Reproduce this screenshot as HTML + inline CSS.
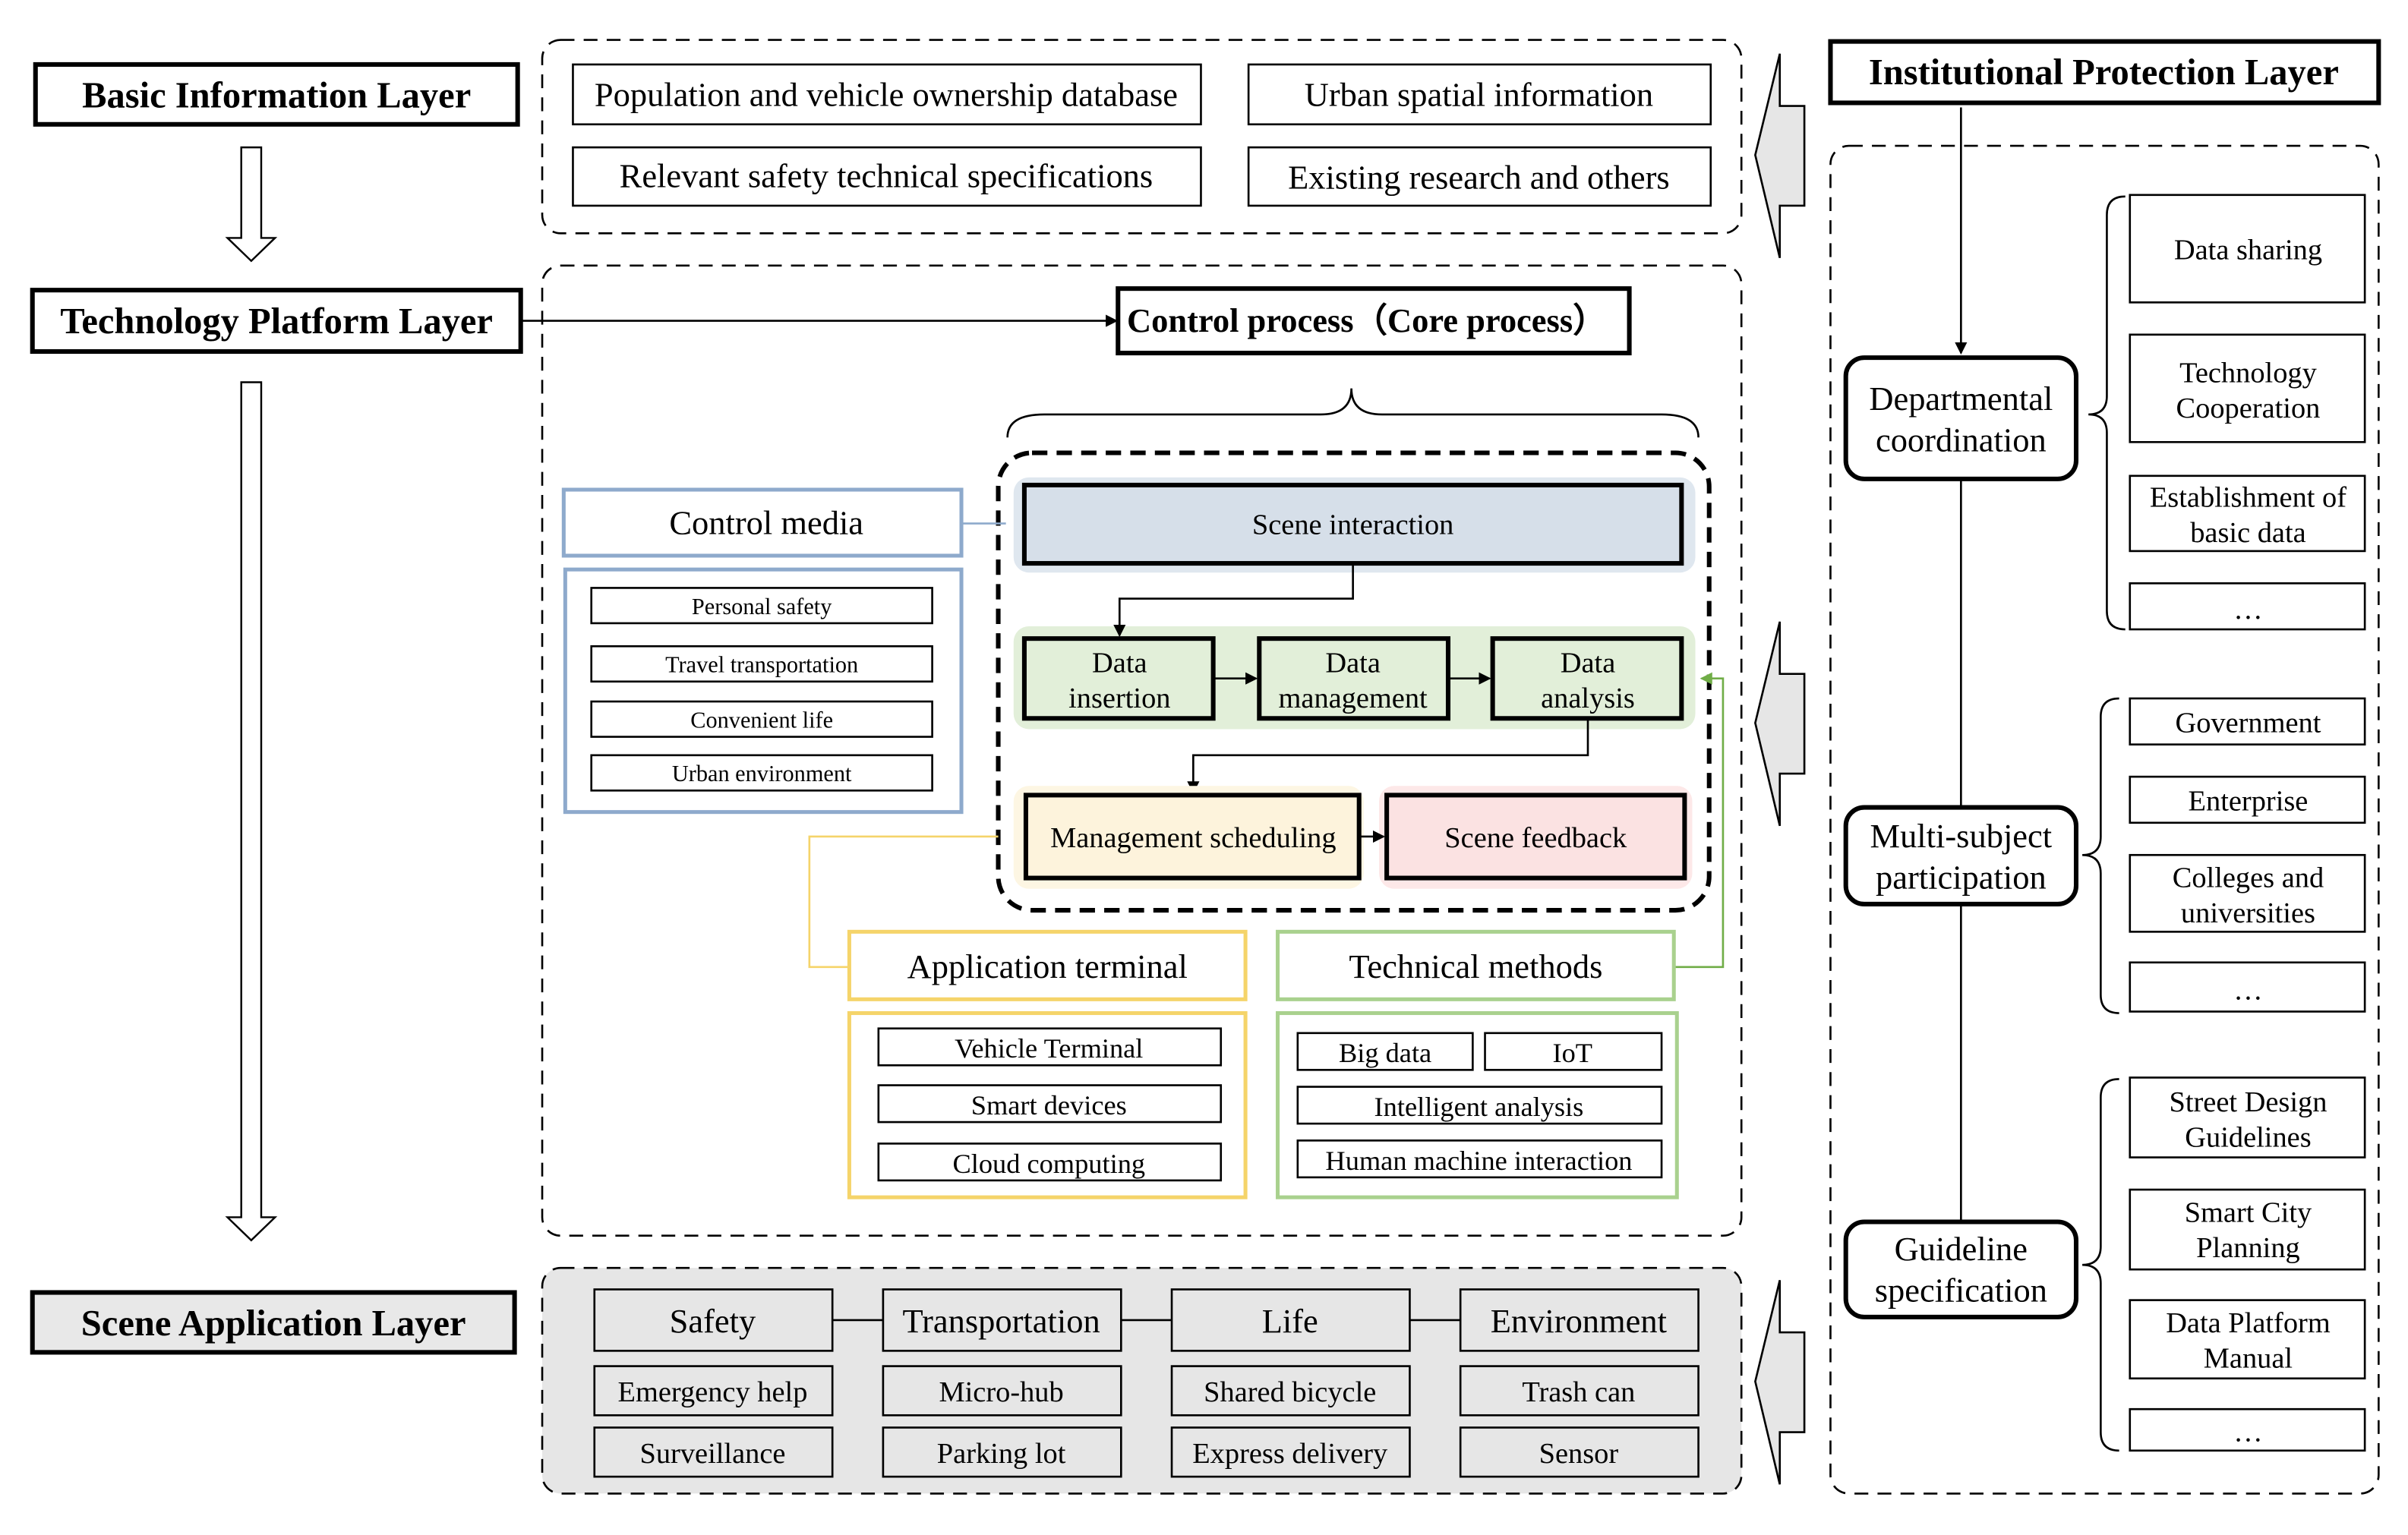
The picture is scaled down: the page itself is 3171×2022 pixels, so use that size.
<!DOCTYPE html>
<html><head><meta charset="utf-8"><style>html,body{margin:0;padding:0;background:#fff}svg{display:block}text{font-family:"Liberation Serif",serif;fill:#000}</style></head><body>
<svg width="3171" height="2022" viewBox="0 0 1568 1000" xmlns="http://www.w3.org/2000/svg">
<defs><marker id="a" markerWidth="8" markerHeight="8" refX="7" refY="4" orient="auto" markerUnits="userSpaceOnUse"><path d="M0,0 L8,4 L0,8 z" fill="#000"/></marker>
<marker id="g" markerWidth="8" markerHeight="8" refX="7" refY="4" orient="auto" markerUnits="userSpaceOnUse"><path d="M0,0 L8,4 L0,8 z" fill="#70ad47"/></marker></defs>
<g font-size="22" text-anchor="middle">
<!-- left layers -->
<rect x="23" y="42" width="314" height="39" fill="#fff" stroke="#000" stroke-width="3"/>
<text x="180" y="70" font-weight="bold" font-size="24">Basic Information Layer</text>
<path d="M157,96 H170 V155 H179 L163.5,170 L148,155 H157 Z" fill="#fff" stroke="#000" stroke-width="1.2"/>
<rect x="21" y="189" width="318" height="40" fill="#fff" stroke="#000" stroke-width="3"/>
<text x="180" y="217" font-weight="bold" font-size="24">Technology Platform Layer</text>
<path d="M157,249 H170 V793 H179 L163.5,808 L148,793 H157 Z" fill="#fff" stroke="#000" stroke-width="1.2"/>
<rect x="21" y="842" width="314" height="39" fill="#e8e8e8" stroke="#000" stroke-width="3"/>
<text x="178" y="870" font-weight="bold" font-size="24">Scene Application Layer</text>
<line x1="339" y1="209" x2="727" y2="209" stroke="#000" stroke-width="1.3" marker-end="url(#a)"/>
<!-- top dashed -->
<rect x="353" y="26" width="781" height="126" rx="12" fill="none" stroke="#000" stroke-width="1.3" stroke-dasharray="9,6"/>
<g fill="#fff" stroke="#000" stroke-width="1.3">
<rect x="373" y="42" width="409" height="39"/><rect x="813" y="42" width="301" height="39"/>
<rect x="373" y="96" width="409" height="38"/><rect x="813" y="96" width="301" height="38"/></g>
<text x="577" y="69">Population and vehicle ownership database</text>
<text x="963" y="69">Urban spatial information</text>
<text x="577" y="122">Relevant safety technical specifications</text>
<text x="963" y="123">Existing research and others</text>
<!-- middle dashed -->
<rect x="353" y="173" width="781" height="632" rx="12" fill="none" stroke="#000" stroke-width="1.3" stroke-dasharray="9,6"/>
<rect x="728" y="188" width="333" height="42" fill="#fff" stroke="#000" stroke-width="3"/>
<text x="890" y="216" font-weight="bold">Control process（Core process）</text>
<path d="M656,285 Q656,270 680,270 H860 Q880,270 880,253 Q880,270 900,270 H1082 Q1106,270 1106,285" fill="none" stroke="#000" stroke-width="1.3"/>
<rect x="650" y="295" width="463" height="298" rx="22" fill="none" stroke="#000" stroke-width="3" stroke-dasharray="10,6"/>
<rect x="660" y="311" width="444" height="62" rx="10" fill="#dfe7ef"/>
<rect x="667" y="316" width="428" height="51" fill="#d6dfe9" stroke="#000" stroke-width="3"/>
<text x="881" y="348" font-size="19">Scene interaction</text>
<rect x="660" y="408" width="444" height="67" rx="10" fill="#e2efd9"/>
<g fill="#e2efd9" stroke="#000" stroke-width="3">
<rect x="667" y="416" width="123" height="52"/><rect x="820" y="416" width="123" height="52"/><rect x="972" y="416" width="123" height="52"/></g>
<g font-size="19"><text x="729" y="438">Data</text><text x="729" y="461">insertion</text>
<text x="881" y="438">Data</text><text x="881" y="461">management</text>
<text x="1034" y="438">Data</text><text x="1034" y="461">analysis</text></g>
<polyline points="881,367 881,390 729,390 729,414" fill="none" stroke="#000" stroke-width="1.3" marker-end="url(#a)"/>
<line x1="790" y1="442" x2="818" y2="442" stroke="#000" stroke-width="1.3" marker-end="url(#a)"/>
<line x1="943" y1="442" x2="970" y2="442" stroke="#000" stroke-width="1.3" marker-end="url(#a)"/>
<polyline points="1034,468 1034,492 777,492 777,516" fill="none" stroke="#000" stroke-width="1.3" marker-end="url(#a)"/>
<rect x="660" y="512" width="228" height="67" rx="10" fill="#fdf6e3"/>
<rect x="898" y="512" width="204" height="67" rx="10" fill="#fde8e8"/>
<rect x="668" y="518" width="217" height="54" fill="#fdf3dc" stroke="#000" stroke-width="3"/>
<rect x="903" y="518" width="194" height="54" fill="#fbe2e2" stroke="#000" stroke-width="3"/>
<text x="777" y="552" font-size="19">Management scheduling</text>
<text x="1000" y="552" font-size="19">Scene feedback</text>
<line x1="885" y1="545" x2="901" y2="545" stroke="#000" stroke-width="1.3" marker-end="url(#a)"/>
<!-- control media -->
<rect x="367" y="319" width="259" height="43" fill="#fff" stroke="#8eaacc" stroke-width="2.5"/>
<text x="499" y="348">Control media</text>
<line x1="626" y1="341" x2="655" y2="341" stroke="#8eaacc" stroke-width="1.3"/>
<rect x="368" y="371" width="258" height="158" fill="#fff" stroke="#8eaacc" stroke-width="2.5"/>
<g fill="#fff" stroke="#000" stroke-width="1.3"><rect x="385" y="383" width="222" height="23"/><rect x="385" y="421" width="222" height="23"/><rect x="385" y="457" width="222" height="23"/><rect x="385" y="492" width="222" height="23"/></g>
<g font-size="15"><text x="496" y="400">Personal safety</text><text x="496" y="438">Travel transportation</text><text x="496" y="474">Convenient life</text><text x="496" y="509">Urban environment</text></g>
<!-- app terminal -->
<polyline points="650,545 527,545 527,630 553,630" fill="none" stroke="#f5d46a" stroke-width="1.3"/>
<rect x="553" y="607" width="258" height="44" fill="#fff" stroke="#f5d46a" stroke-width="2.5"/>
<text x="682" y="637">Application terminal</text>
<rect x="553" y="660" width="258" height="120" fill="#fff" stroke="#f5d46a" stroke-width="2.5"/>
<g fill="#fff" stroke="#000" stroke-width="1.3"><rect x="572" y="670" width="223" height="24"/><rect x="572" y="707" width="223" height="24"/><rect x="572" y="745" width="223" height="24"/></g>
<g font-size="18"><text x="683" y="689">Vehicle Terminal</text><text x="683" y="726">Smart devices</text><text x="683" y="764">Cloud computing</text></g>
<!-- tech methods -->
<polyline points="1090,630 1122,630 1122,442 1108,442" fill="none" stroke="#70ad47" stroke-width="1.3" marker-end="url(#g)"/>
<rect x="832" y="607" width="258" height="44" fill="#fff" stroke="#a9d18e" stroke-width="2.5"/>
<text x="961" y="637">Technical methods</text>
<rect x="832" y="660" width="260" height="120" fill="#fff" stroke="#a9d18e" stroke-width="2.5"/>
<g fill="#fff" stroke="#000" stroke-width="1.3"><rect x="845" y="673" width="114" height="24"/><rect x="967" y="673" width="115" height="24"/><rect x="845" y="708" width="237" height="24"/><rect x="845" y="743" width="237" height="24"/></g>
<g font-size="18"><text x="902" y="692">Big data</text><text x="1024" y="692">IoT</text><text x="963" y="727">Intelligent analysis</text><text x="963" y="762">Human machine interaction</text></g>
<!-- bottom -->
<rect x="353" y="826" width="781" height="147" rx="12" fill="#e6e6e6" stroke="#000" stroke-width="1.3" stroke-dasharray="9,6"/>
<line x1="542" y1="860" x2="951" y2="860" stroke="#000" stroke-width="1.3"/>
<g fill="#e6e6e6" stroke="#000" stroke-width="1.3">
<rect x="387" y="840" width="155" height="40"/><rect x="575" y="840" width="155" height="40"/><rect x="763" y="840" width="155" height="40"/><rect x="951" y="840" width="155" height="40"/>
<rect x="387" y="890" width="155" height="32"/><rect x="575" y="890" width="155" height="32"/><rect x="763" y="890" width="155" height="32"/><rect x="951" y="890" width="155" height="32"/>
<rect x="387" y="930" width="155" height="32"/><rect x="575" y="930" width="155" height="32"/><rect x="763" y="930" width="155" height="32"/><rect x="951" y="930" width="155" height="32"/></g>
<text x="464" y="868">Safety</text><text x="652" y="868">Transportation</text><text x="840" y="868">Life</text><text x="1028" y="868">Environment</text>
<g font-size="19"><text x="464" y="913">Emergency help</text><text x="652" y="913">Micro-hub</text><text x="840" y="913">Shared bicycle</text><text x="1028" y="913">Trash can</text>
<text x="464" y="953">Surveillance</text><text x="652" y="953">Parking lot</text><text x="840" y="953">Express delivery</text><text x="1028" y="953">Sensor</text></g>
<!-- big left arrows -->
<g fill="#e6e6e6" stroke="#000" stroke-width="1.3">
<path d="M1143,101 L1159,35 V69 H1175 V134 H1159 V168 Z"/>
<path d="M1143,471 L1159,405 V439 H1175 V504 H1159 V538 Z"/>
<path d="M1143,900 L1159,834 V868 H1175 V933 H1159 V967 Z"/></g>
<!-- right -->
<rect x="1192" y="27" width="357" height="40" fill="#fff" stroke="#000" stroke-width="3"/>
<text x="1370" y="55" font-weight="bold" font-size="24">Institutional Protection Layer</text>
<rect x="1192" y="95" width="357" height="878" rx="12" fill="none" stroke="#000" stroke-width="1.3" stroke-dasharray="9,6"/>
<line x1="1277" y1="70" x2="1277" y2="230" stroke="#000" stroke-width="1.3" marker-end="url(#a)"/>
<line x1="1277" y1="312" x2="1277" y2="796" stroke="#000" stroke-width="1.3"/>
<g fill="#fff" stroke="#000" stroke-width="3">
<rect x="1202" y="233" width="150" height="79" rx="12"/><rect x="1202" y="526" width="150" height="63" rx="12"/><rect x="1202" y="796" width="150" height="62" rx="12"/></g>
<text x="1277" y="267">Departmental</text><text x="1277" y="294">coordination</text>
<text x="1277" y="552">Multi-subject</text><text x="1277" y="579">participation</text>
<text x="1277" y="821">Guideline</text><text x="1277" y="848">specification</text>
<g fill="none" stroke="#000" stroke-width="1.3">
<path d="M1384,128 Q1372,128 1372,140 V258 Q1372,270 1360,270 Q1372,270 1372,282 V398 Q1372,410 1384,410"/>
<path d="M1380,455 Q1368,455 1368,467 V545 Q1368,557 1356,557 Q1368,557 1368,569 V648 Q1368,660 1380,660"/>
<path d="M1380,703 Q1368,703 1368,715 V812 Q1368,824 1356,824 Q1368,824 1368,836 V933 Q1368,945 1380,945"/></g>
<g fill="#fff" stroke="#000" stroke-width="1.3">
<rect x="1387" y="127" width="153" height="70"/><rect x="1387" y="218" width="153" height="70"/><rect x="1387" y="310" width="153" height="49"/><rect x="1387" y="380" width="153" height="30"/>
<rect x="1387" y="455" width="153" height="30"/><rect x="1387" y="506" width="153" height="30"/><rect x="1387" y="557" width="153" height="50"/><rect x="1387" y="627" width="153" height="32"/>
<rect x="1387" y="702" width="153" height="52"/><rect x="1387" y="775" width="153" height="52"/><rect x="1387" y="847" width="153" height="51"/><rect x="1387" y="918" width="153" height="27"/></g>
<g font-size="19"><text x="1464" y="169">Data sharing</text>
<text x="1464" y="249">Technology</text><text x="1464" y="272">Cooperation</text>
<text x="1464" y="330">Establishment of</text><text x="1464" y="353">basic data</text>
<text x="1464" y="403">…</text>
<text x="1464" y="477">Government</text><text x="1464" y="528">Enterprise</text>
<text x="1464" y="578">Colleges and</text><text x="1464" y="601">universities</text><text x="1464" y="651">…</text>
<text x="1464" y="724">Street Design</text><text x="1464" y="747">Guidelines</text>
<text x="1464" y="796">Smart City</text><text x="1464" y="819">Planning</text>
<text x="1464" y="868">Data Platform</text><text x="1464" y="891">Manual</text><text x="1464" y="939">…</text></g>
</g>
</svg>
</body></html>
